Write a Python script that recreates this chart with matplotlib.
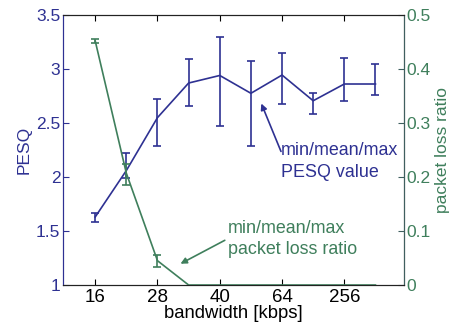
import matplotlib.pyplot as plt
import numpy as np

plt.rcParams['font.family'] = ['Liberation Sans', 'DejaVu Sans']

# bandwidth steps (index positions), labels only on every second one
steps = np.arange(10)
tick_pos = [0, 2, 4, 6, 8]
tick_labels = ['16', '28', '40', '64', '256']

# PESQ min/mean/max
pesq_mean = [1.63, 2.06, 2.55, 2.87, 2.94, 2.775, 2.944, 2.706, 2.861, 2.861]
pesq_min = [1.58, 1.99, 2.29, 2.66, 2.47, 2.29, 2.68, 2.58, 2.70, 2.76]
pesq_max = [1.67, 2.22, 2.725, 3.095, 3.296, 3.07, 3.15, 2.78, 3.10, 3.046]

# packet loss ratio min/mean/max
loss_mean = [0.452, 0.207, 0.045, 0, 0, 0, 0, 0, 0, 0]
loss_min = [0.448, 0.186, 0.033, 0, 0, 0, 0, 0, 0, 0]
loss_max = [0.456, 0.224, 0.056, 0, 0, 0, 0, 0, 0, 0]

blue = '#2e3192'
green = '#3f7f5c'

fig = plt.figure(figsize=(4.51, 3.23), dpi=100)
ax = fig.add_axes([0.140, 0.1176, 0.756, 0.836])
ax2 = ax.twinx()

pm = np.array(pesq_mean)
ax.errorbar(steps, pm, yerr=[pm - np.array(pesq_min), np.array(pesq_max) - pm],
            color=blue, lw=1.2, capsize=2.7, capthick=1.2, elinewidth=1.2, zorder=3)

lm = np.array(loss_mean)
nz = lm > 0
ax2.plot(steps, lm, color=green, lw=1.2, clip_on=False, zorder=2)
ax2.errorbar(steps[nz], lm[nz], yerr=[lm[nz] - np.array(loss_min)[nz], np.array(loss_max)[nz] - lm[nz]],
             color=green, lw=0, capsize=2.7, capthick=1.2, elinewidth=1.2)

ax.set_xlim(-1.03, 9.92)
ax.set_ylim(1, 3.5)
ax2.set_ylim(0, 0.5)
ax.set_xticks(tick_pos)
ax.set_xticklabels(tick_labels)
ax.set_yticks([1, 1.5, 2, 2.5, 3, 3.5])
ax.set_yticklabels(['1', '1.5', '2', '2.5', '3', '3.5'])
ax2.set_yticks([0, 0.1, 0.2, 0.3, 0.4, 0.5])
ax2.set_yticklabels(['0', '0.1', '0.2', '0.3', '0.4', '0.5'])

ax.tick_params(axis='x', direction='in', top=True, length=4, labelsize=13.5, colors='black', pad=3)
ax.tick_params(axis='y', direction='in', length=4, labelsize=12.5, colors=blue, pad=2)
ax2.tick_params(axis='y', direction='in', length=4, labelsize=12.5, colors=green, pad=2)
ax2.tick_params(axis='y', color='#3f5f5f')

ax.spines['left'].set_color(blue)
ax2.spines['left'].set_color(blue)
ax2.spines['right'].set_color('#3f5f5f')
for a in (ax, ax2):
    a.spines['top'].set_color('#222222')
    a.spines['bottom'].set_color('#222222')

ax.set_xlabel('bandwidth [kbps]', fontsize=13.3, labelpad=-1)
ax.set_ylabel('PESQ', color=blue, fontsize=12.5, labelpad=3)
ax2.set_ylabel('packet loss ratio', color=green, fontsize=12.5, labelpad=3)

ax.annotate('', xy=(5.30, 2.704), xytext=(6.0, 2.213),
            arrowprops=dict(arrowstyle='-|>', color=blue, lw=1.2, mutation_scale=9))
ax.text(5.97, 2.144, 'min/mean/max\nPESQ value', color=blue, fontsize=12.9,
        ha='left', va='center', linespacing=1.35)

ax.annotate('', xy=(2.66, 1.185), xytext=(4.24, 1.426),
            arrowprops=dict(arrowstyle='-|>', color=green, lw=1.2, mutation_scale=9))
ax.text(4.27, 1.426, 'min/mean/max\npacket loss ratio', color=green, fontsize=12.9,
        ha='left', va='center', linespacing=1.35)

fig.savefig('out.png', dpi=100)
